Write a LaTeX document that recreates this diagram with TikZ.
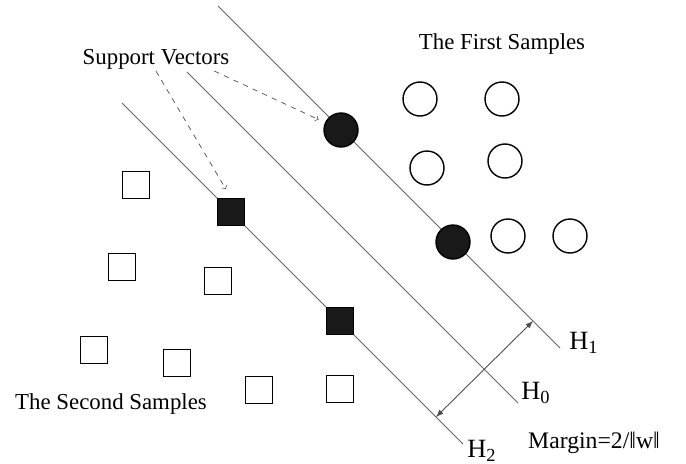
\documentclass[tikz,border=0pt]{standalone}
\usepackage{fontspec}
\setmainfont{Liberation Serif}
\usetikzlibrary{arrows}

\tikzset{
  first/.style={circle,draw,line width=0.8pt,minimum size=0.68cm,inner sep=0pt},
  second/.style={rectangle,draw,line width=0.8pt,minimum size=0.54cm,inner sep=0pt},
  support/.style={fill=black!90},
  hyper/.style={draw=black!60,line width=0.5pt},
  svarrow/.style={->,dashed,draw=black!70,line width=0.4pt},
  label/.style={inner sep=1pt,font=\fontsize{13}{15}\selectfont},
}

\begin{document}
\begin{tikzpicture}[x=0.02cm,y=-0.02cm]
  \useasboundingbox (0,0) rectangle (686,463);

  % hyperplanes
  \coordinate (h1s) at (218,6);
  \coordinate (h1e) at (560,348);
  \coordinate (h0s) at (187,72);
  \coordinate (h0e) at (518,403);
  \coordinate (h2s) at (122,103);
  \coordinate (h2e) at (463,444);
  \draw [hyper] (h1s) -- (h1e);
  \draw [hyper] (h0s) -- (h0e);
  \draw [hyper] (h2s) -- (h2e);

  % first samples
  \node (c1) [first,support] at (341,130) {};
  \node (c2) [first,support] at (453,242) {};
  \node (c3) [first] at (420,99) {};
  \node (c4) [first] at (502,99) {};
  \node (c5) [first] at (427,168) {};
  \node (c6) [first] at (505,161) {};
  \node (c7) [first] at (508,236) {};
  \node (c8) [first] at (570,236) {};

  % second samples
  \node (s1) [second,support] at (231,212) {};
  \node (s2) [second,support] at (340,321) {};
  \node (s3) [second] at (136,185) {};
  \node (s4) [second] at (122,267) {};
  \node (s5) [second] at (218,281) {};
  \node (s6) [second] at (94,350) {};
  \node (s7) [second] at (177,363) {};
  \node (s8) [second] at (259,390) {};
  \node (s9) [second] at (340,389) {};

  % labels
  \node (sv) [label] at (156,59) {Support Vectors};
  \node (fs) [label] at (502,44) {The First Samples};
  \node (ss) [label] at (111,404) {The Second Samples};
  \node (lh1) [label,font=\fontsize{15}{17}\selectfont] at (584,343) {H\textsubscript{1}};
  \node (lh0) [label,font=\fontsize{15}{17}\selectfont] at (536,393) {H\textsubscript{0}};
  \node (lh2) [label,font=\fontsize{15}{17}\selectfont] at (482,451) {H\textsubscript{2}};
  \node (mg) [label,font=\fontsize{13.5}{15}\selectfont] at (594,443) {Margin=2/‖w‖};

  \draw [svarrow,shorten >=0.2cm] (sv.south) -- (s1.north);
  \draw [svarrow,shorten >=0.14cm] ([xshift=-0.34cm]sv.south east) -- (c1);

  % margin
  \coordinate (m2) at (436,417);
  \coordinate (m1) at (533,321);
  \draw [latex-latex,draw=black!70,line width=0.5pt] (m2) -- (m1);
\end{tikzpicture}
\end{document}
